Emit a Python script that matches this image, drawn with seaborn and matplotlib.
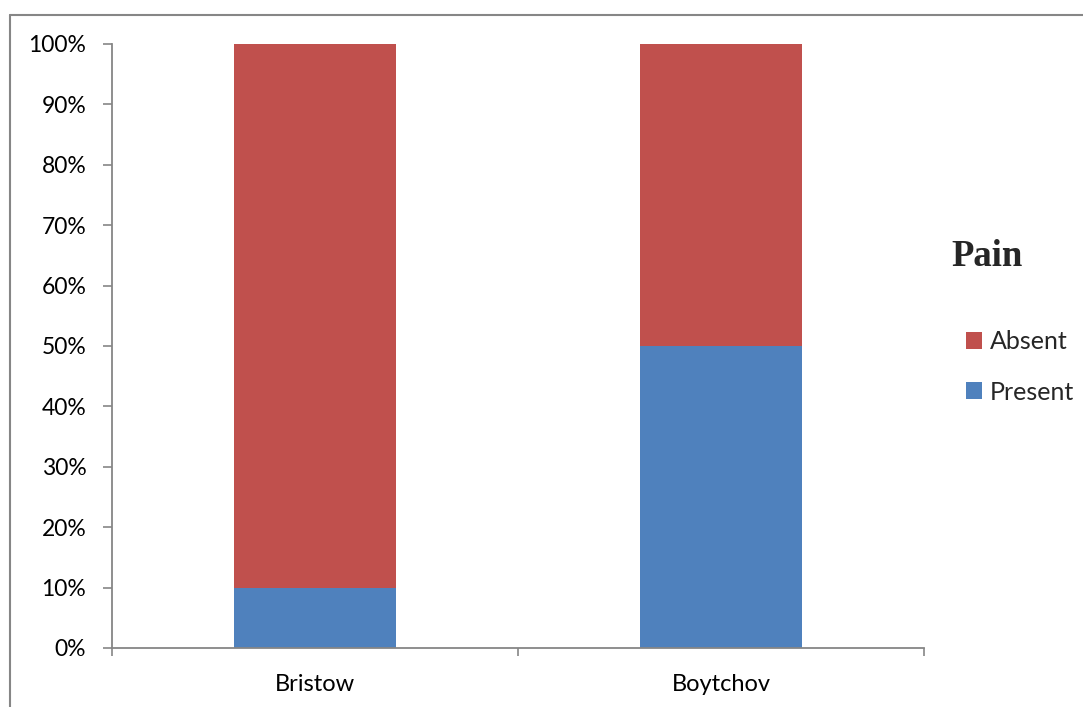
import matplotlib
matplotlib.use("Agg")
import matplotlib.pyplot as plt
from matplotlib.lines import Line2D
from matplotlib.patches import Patch
from matplotlib.ticker import FuncFormatter
import seaborn as sns
import pandas as pd

studies = ["Bristow", "Boytchov"]
present = [10, 50]
absent = [90, 50]
y_ticks = [0, 10, 20, 30, 40, 50, 60, 70, 80, 90, 100]

RED = "#C0504D"
BLUE = "#4F81BD"
GREY = "#868686"

sns.set_theme(style="white")
plt.rcParams["font.family"] = ["Lato", "DejaVu Sans"]

df = pd.DataFrame({"study": studies, "Present": present, "Absent": absent})
df["top"] = df["Present"] + df["Absent"]

fig = plt.figure(figsize=(10.83, 7.07), dpi=100)
ax = fig.add_axes([112 / 1083, 1 - 648 / 707, (924 - 112) / 1083, (648 - 44) / 707])

# stacked bars: full stack in red, lower segment in blue over it
sns.barplot(data=df, x="study", y="top", color=RED, width=0.4, ax=ax,
            saturation=1, linewidth=0)
sns.barplot(data=df, x="study", y="Present", color=BLUE, width=0.4, ax=ax,
            saturation=1, linewidth=0)

ax.set_xlim(-0.5, 1.5)
ax.set_ylim(0, 100)
ax.set_yticks(y_ticks)
ax.yaxis.set_major_formatter(FuncFormatter(lambda v, p: f"{int(v)}%"))
ax.set_xlabel("")
ax.set_ylabel("")

ax.set_xticks([-0.5, 0.5, 1.5], minor=True)
ax.tick_params(axis="x", which="major", length=0, pad=19, labelsize=17, colors="black")
ax.tick_params(axis="x", which="minor", length=6, width=1.2, color=GREY, direction="out", bottom=True)
ax.tick_params(axis="y", which="major", length=6.5, width=1.2, color=GREY, direction="out",
               left=True, pad=12, labelsize=16.5, labelcolor="black")

for side in ["top", "right"]:
    ax.spines[side].set_visible(False)
for side in ["left", "bottom"]:
    ax.spines[side].set_color(GREY)
    ax.spines[side].set_linewidth(1.3)

# chart area frame (left and top edges)
fx = 9.5 / 1083
fy = 1 - 14.5 / 707
fig.add_artist(Line2D([fx, fx], [0, fy], transform=fig.transFigure, color=GREY, lw=1.5))
fig.add_artist(Line2D([fx, 1], [fy, fy], transform=fig.transFigure, color=GREY, lw=1.5))

# legend
fig.text(987 / 1083, 1 - 257 / 707, "Pain", family="Liberation Serif", fontweight="bold",
         fontsize=26.5, ha="center", va="center")
handles = [Patch(facecolor=RED, edgecolor="none", label="Absent"),
           Patch(facecolor=BLUE, edgecolor="none", label="Present")]
fig.legend(handles=handles, loc="upper left", bbox_to_anchor=(966 / 1083, 1 - 330 / 707),
           frameon=False, fontsize=18, handlelength=0.65, handleheight=0.65,
           handletextpad=0.3, labelspacing=1.1, borderpad=0, borderaxespad=0)

fig.savefig("out.png", dpi=100)
